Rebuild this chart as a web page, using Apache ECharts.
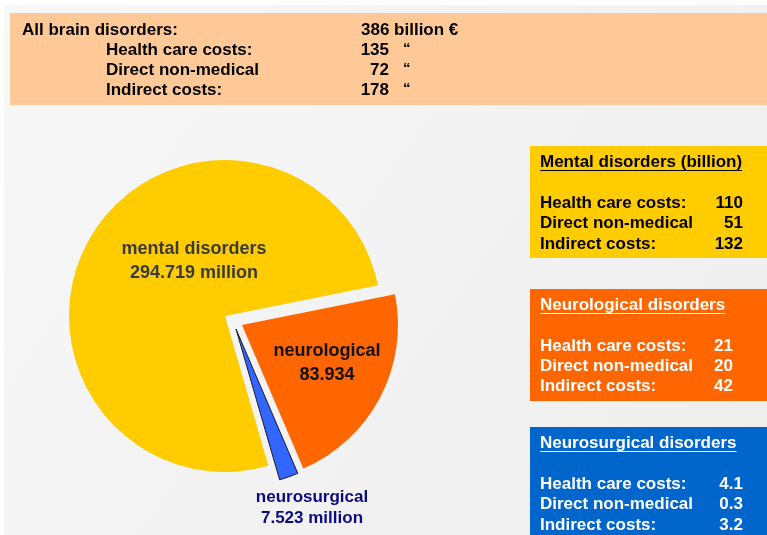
<!DOCTYPE html>
<html>
<head>
<meta charset="utf-8">
<script src="https://cdn.jsdelivr.net/npm/echarts@6/dist/echarts.min.js"></script>
<style>
html,body{margin:0;padding:0;background:#fff;}
#chart{width:767px;height:535px;}
</style>
</head>
<body>
<div id="chart"></div>
<script>
// ---- data ----
const sliceNames = ['neurological', 'neurosurgical', 'mental disorders'];
const sliceValues = [83.934, 7.523, 294.719];
const sliceUnits = ['', ' million', ' million'];

const costLabels = ['Health care costs:', 'Direct non-medical', 'Indirect costs:'];
const totalTitle = 'All brain disorders:';
const totalValue = 386;
const totalCosts = [135, 72, 178];
const mentalTitle = 'Mental disorders (billion)';
const mentalCosts = [110, 51, 132];
const neuroTitle = 'Neurological disorders';
const neuroCosts = [21, 20, 42];
const surgTitle = 'Neurosurgical disorders';
const surgCosts = [4.1, 0.3, 3.2];

// ---- styles / layout ----
const FONT = '"Liberation Sans", Arial, Helvetica, sans-serif';
const sliceColors = ['#ff6600', '#3366ff', '#ffcc00'];
const labelColors = ['#111111', '#0b0b80', '#3a3a3a'];
const labelSizes = [18, 17, 18];
const labelLH = [24, 21, 24];
const labelPos = [[327, 363], [312, 508], [194, 261]];
// each slice drawn in its own (exploded) pie layer
const sliceCenters = [[242, 325], [236, 329], [225, 316]];
const sliceRadius = [156, 157, 156];

const chart = echarts.init(document.getElementById('chart'), null, {renderer: 'canvas'});

const ctx = document.createElement('canvas').getContext('2d');
ctx.font = 'bold 17px ' + FONT;
function tw(s) { return ctx.measureText(s).width; }

function txt(x, y, s, color, align, size) {
  return {
    type: 'text', x: x, y: y, silent: true,
    style: {text: s, fill: color, font: 'bold ' + (size || 17) + 'px ' + FONT,
            textAlign: align || 'left', textVerticalAlign: 'middle'}
  };
}
function line(x1, x2, y, color) {
  return {type: 'line', silent: true, shape: {x1: x1, y1: y, x2: x2, y2: y},
          style: {stroke: color, lineWidth: 1.2}};
}

const g = [];
// white margins
g.push({type: 'rect', shape: {x: 0, y: 0, width: 767, height: 5}, style: {fill: '#ffffff'}, silent: true});
g.push({type: 'rect', shape: {x: 0, y: 0, width: 4, height: 535}, style: {fill: '#ffffff'}, silent: true});
// top box
g.push({type: 'rect', shape: {x: 10, y: 13, width: 757, height: 92}, style: {fill: '#ffc997'}, silent: true});
g.push(txt(22, 30, totalTitle, '#000'));
g.push(txt(361, 30, totalValue + ' billion \u20ac', '#000'));
const rowsTop = [50, 70, 90];
costLabels.forEach((l, i) => {
  g.push(txt(106, rowsTop[i], l, '#000'));
  g.push(txt(389, rowsTop[i], String(totalCosts[i]), '#000', 'right'));
  g.push(txt(403, rowsTop[i] - 1, '\u201c', '#000', 'left', 15));
});

function box(y, h, fill, color, title, titleY, rows, vals, valX, dec) {
  g.push({type: 'rect', shape: {x: 530, y: y, width: 237, height: h}, style: {fill: fill}, silent: true});
  g.push(txt(540, titleY, title, color));
  g.push(line(540, 540 + tw(title), titleY + 8.5, color));
  costLabels.forEach((l, i) => {
    g.push(txt(540, rows[i], l, color));
    g.push(txt(valX, rows[i], dec ? vals[i].toFixed(dec) : String(vals[i]), color, 'right'));
  });
}
box(146, 112, '#ffcc00', '#000000', mentalTitle, 162, [203, 223, 244], mentalCosts, 743, 0);
box(289, 112, '#ff6600', '#ffffff', neuroTitle, 305, [346, 366, 386], neuroCosts, 733, 0);
box(427, 120, '#0066cc', '#ffffff', surgTitle, 443, [484, 504, 525], surgCosts, 743, 1);

function pieData(k) {
  return sliceNames.map((n, i) => {
    const vis = (i === k);
    return {
      name: n, value: sliceValues[i],
      itemStyle: vis ? {
        color: sliceColors[i],
        borderColor: i === 1 ? '#1a1a2a' : 'transparent',
        borderWidth: i === 1 ? 1 : 0
      } : {color: 'rgba(0,0,0,0)', borderWidth: 0},
      label: {
        show: vis,
        color: labelColors[i],
        fontSize: labelSizes[i],
        lineHeight: labelLH[i],
        formatter: n + '\n' + sliceValues[i].toFixed(3) + sliceUnits[i]
      }
    };
  });
}

const labelLayout = function (p) {
  const pos = labelPos[p.dataIndex];
  return {x: pos[0], y: pos[1], align: 'center', verticalAlign: 'middle'};
};

const series = [2, 0, 1].map(k => ({
  type: 'pie',
  center: sliceCenters[k],
  radius: sliceRadius[k],
  startAngle: 11.4,
  clockwise: true,
  animation: false,
  silent: true,
  avoidLabelOverlap: false,
  emphasis: {disabled: true},
  label: {position: 'inside', fontFamily: FONT, fontWeight: 'bold', textBorderWidth: 0, align: 'center'},
  labelLine: {show: false},
  labelLayout: labelLayout,
  data: pieData(k)
}));

chart.setOption({
  animation: false,
  backgroundColor: {
    type: 'linear', x: 0, y: 0, x2: 1, y2: 1,
    colorStops: [{offset: 0, color: '#f8f8f8'}, {offset: 1, color: '#ededed'}]
  },
  graphic: {elements: g},
  series: series
});
</script>
</body>
</html>
